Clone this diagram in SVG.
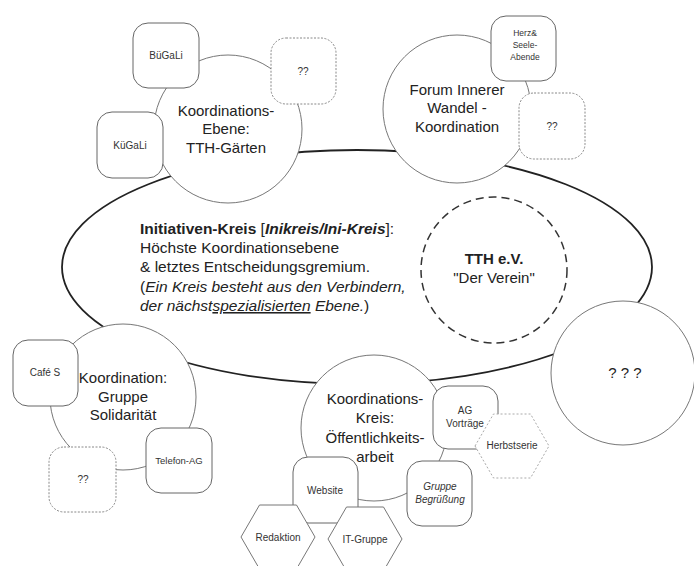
<svg xmlns="http://www.w3.org/2000/svg" width="694" height="566" viewBox="0 0 694 566">
<defs>
<style>
text{font-family:"Liberation Sans",Arial,sans-serif;fill:#222;text-anchor:middle}
.big{font-size:15px}
.sm{font-size:10px;fill:#333}
.xs{font-size:8.5px;fill:#333}
.circ{fill:#fff;stroke:#777;stroke-width:1}
.box{fill:#fff;stroke:#666;stroke-width:1}
.dbox{fill:#fff;stroke:#888;stroke-width:1;stroke-dasharray:2 1.5}
.hex{fill:#fff;stroke:#777;stroke-width:1}
.dhex{fill:#fff;stroke:#aaa;stroke-width:1;stroke-dasharray:2 2}
.ell{fill:#fff;stroke:#222;stroke-width:1.8}
</style>
</defs>
<rect width="694" height="566" fill="#fff"/>
<g id="connectors"></g>
<g id="ini-kreis">
<ellipse class="ell" cx="357" cy="267" rx="295" ry="117"/>
<text x="140" y="234" style="text-anchor:start;font-size:15.5px"><tspan font-weight="bold">Initiativen-Kreis</tspan> [<tspan font-weight="bold" font-style="italic">Inikreis/Ini-Kreis</tspan>]:</text>
<text x="140" y="253" style="text-anchor:start;font-size:15.5px">Höchste Koordinationsebene</text>
<text x="140" y="272" style="text-anchor:start;font-size:15.5px">&amp; letztes Entscheidungsgremium.</text>
<text x="140" y="292" style="text-anchor:start;font-size:15.5px">(<tspan font-style="italic">Ein Kreis besteht aus den Verbindern,</tspan></text>
<text x="140" y="311" style="text-anchor:start;font-size:15.5px"><tspan font-style="italic">der nächst</tspan><tspan font-style="italic" text-decoration="underline">spezialisierten</tspan><tspan font-style="italic"> Ebene.</tspan>)</text>
</g>
<g id="tth-ev">
<circle cx="494" cy="270" r="73" fill="#fff" stroke="#333" stroke-width="1.5" stroke-dasharray="8 5"/>
<text x="494" y="264" class="big" font-weight="bold">TTH e.V.</text>
<text x="494" y="283" class="big">"Der Verein"</text>
</g>
<g id="koord-gaerten">
<circle class="circ" cx="228" cy="129" r="74"/>
<text x="226" y="116" class="big">Koordinations-</text>
<text x="226" y="134" class="big">Ebene:</text>
<text x="226" y="153" class="big">TTH-Gärten</text>
</g>
<g id="forum">
<circle class="circ" cx="457" cy="109" r="74"/>
<text x="457" y="95" class="big">Forum Innerer</text>
<text x="457" y="113" class="big">Wandel -</text>
<text x="457" y="132" class="big">Koordination</text>
</g>
<g id="unbekannt">
<circle class="circ" cx="623" cy="373" r="72"/>
<text x="625" y="378" class="big">? ? ?</text>
</g>
<g id="solidaritaet">
<circle class="circ" cx="123" cy="397" r="73"/>
<text x="123" y="383" class="big">Koordination:</text>
<text x="123" y="402" class="big">Gruppe</text>
<text x="123" y="420" class="big">Solidarität</text>
</g>
<g id="oeffentlichkeit">
<circle class="circ" cx="374" cy="428" r="73"/>
<text x="375" y="404" class="big">Koordinations-</text>
<text x="375" y="423" class="big">Kreis:</text>
<text x="375" y="443" class="big">Öffentlichkeits-</text>
<text x="375" y="462" class="big">arbeit</text>
</g>
<g id="buegali">
<rect class="box" x="133" y="23" width="66" height="65" rx="15"/>
<text x="166" y="59" class="sm">BüGaLi</text>
</g>
<g id="gaerten-unbekannt">
<rect class="dbox" x="271" y="38" width="65" height="66" rx="15"/>
<text x="303" y="75" class="sm">??</text>
</g>
<g id="kuegali">
<rect class="box" x="97" y="112" width="66" height="66" rx="15"/>
<text x="130" y="149" class="sm">KüGaLi</text>
</g>
<g id="herz-seele">
<rect class="box" x="491" y="16" width="65" height="65" rx="15"/>
<text x="525" y="36" class="xs">Herz&amp;</text>
<text x="525" y="48" class="xs">Seele-</text>
<text x="525" y="60" class="xs">Abende</text>
</g>
<g id="forum-unbekannt">
<rect class="dbox" x="519" y="93" width="66" height="66" rx="15"/>
<text x="552" y="130" class="sm">??</text>
</g>
<g id="cafe-s">
<rect class="box" x="13" y="340" width="65" height="66" rx="15"/>
<text x="45" y="376" class="sm">Café S</text>
</g>
<g id="telefon-ag">
<rect class="box" x="146" y="428" width="66" height="65" rx="15"/>
<text x="179" y="464" class="sm" style="font-size:9.5px">Telefon-AG</text>
</g>
<g id="solidaritaet-unbekannt">
<rect class="dbox" x="49" y="447" width="67" height="65" rx="15"/>
<text x="83" y="483" class="sm">??</text>
</g>
<g id="ag-vortraege">
<rect class="box" x="433" y="386" width="65" height="63" rx="15"/>
<text x="465" y="414" class="sm">AG</text>
<text x="465" y="427" class="sm">Vorträge</text>
</g>
<g id="herbstserie">
<polygon class="dhex" points="475,446 493.5,414 530.5,414 549,446 530.5,478 493.5,478"/>
<text x="512" y="449" class="sm">Herbstserie</text>
</g>
<g id="gruppe-begruessung">
<rect class="box" x="407" y="461" width="65" height="65" rx="15"/>
<text x="440" y="490" class="sm" font-style="italic">Gruppe</text>
<text x="440" y="503" class="sm" font-style="italic">Begrüßung</text>
</g>
<g id="website">
<rect class="box" x="293" y="457" width="65" height="66" rx="15"/>
<text x="325" y="494" class="sm">Website</text>
</g>
<g id="redaktion">
<polygon class="hex" points="241,537 259.5,505 296.5,505 315,537 296.5,569 259.5,569"/>
<text x="278" y="541" class="sm">Redaktion</text>
</g>
<g id="it-gruppe">
<polygon class="hex" points="328,539 346.5,507 383.5,507 402,539 383.5,571 346.5,571"/>
<text x="365" y="543" class="sm">IT-Gruppe</text>
</g>
</svg>
